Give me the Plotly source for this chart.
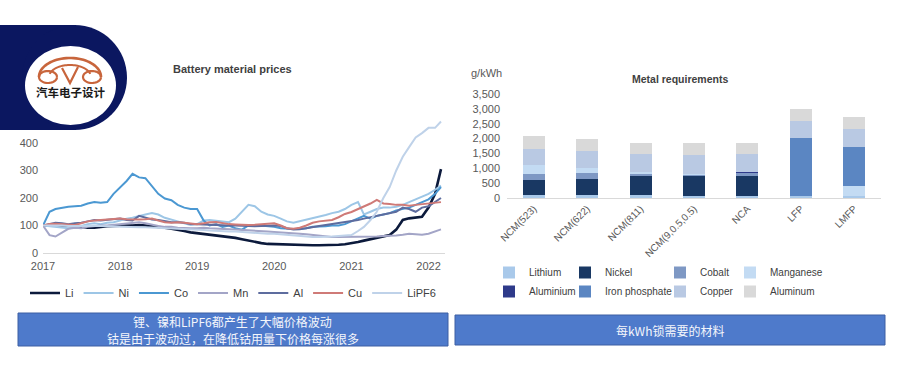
import numpy as np
import plotly.graph_objects as go

W, H = 897, 383


def px(x):
    return x / W


def py(y):
    return 1 - y / H


# ---------------- data: battery material prices (index, Jan 2017 = 100) ----------------
months = [f"{y}-{m:02d}-01" for y in range(2017, 2023) for m in range(1, 13)][:63]

li = [100, 100, 100, 102, 100, 98, 95, 92, 92, 95, 97, 98,
      100, 100, 100, 102, 100, 98, 95, 92, 88, 85, 80, 75,
      72, 70, 68, 65, 62, 58, 55, 50, 45, 40, 36, 33,
      32, 31, 31, 30, 30, 29, 28, 28, 28, 29, 30, 32,
      35, 40, 45, 50, 55, 60, 65, 85, 120, 126, 128, 132,
      165, 215, 305]
ni = [100, 98, 95, 92, 90, 92, 98, 105, 108, 105, 110, 112,
      118, 125, 128, 135, 140, 145, 140, 128, 120, 115, 108, 102,
      105, 118, 120, 118, 115, 112, 125, 150, 175, 170, 150, 140,
      135, 125, 115, 110, 115, 122, 128, 132, 138, 145, 150, 160,
      175, 185, 140, 150, 160, 165, 165, 168, 175, 185, 195, 205,
      215, 230, 245]
co = [100, 150, 160, 165, 168, 170, 172, 180, 185, 183, 185, 215,
      238, 262, 288, 275, 272, 245, 215, 198, 192, 175, 165, 160,
      160, 118, 100, 105, 95, 100, 90, 85, 100, 102, 100, 98,
      95, 90, 88, 87, 88, 90, 95, 95, 97, 100, 100, 105,
      115, 125, 135, 125, 135, 140, 145, 155, 160, 165, 175, 185,
      195, 215, 240]
mn = [100, 65, 60, 75, 88, 92, 90, 95, 98, 100, 100, 102,
      105, 108, 110, 112, 108, 102, 98, 95, 95, 92, 90, 90,
      90, 92, 90, 88, 88, 86, 85, 84, 82, 80, 80, 78,
      76, 75, 74, 72, 70, 68, 65, 62, 60, 58, 58, 58,
      58, 58, 60, 60, 60, 62, 62, 64, 66, 70, 68, 66,
      70, 78, 86]
al = [100, 105, 110, 108, 105, 108, 110, 115, 120, 118, 120, 122,
      125, 120, 118, 135, 128, 122, 120, 115, 112, 112, 110, 105,
      105, 105, 103, 102, 100, 100, 100, 98, 98, 97, 98, 100,
      100, 98, 90, 85, 86, 90, 95, 98, 102, 105, 108, 112,
      115, 120, 125, 130, 135, 140, 145, 150, 165, 160, 150, 165,
      170, 185, 200]
cu = [100, 105, 106, 104, 103, 102, 108, 115, 118, 120, 122, 125,
      125, 123, 122, 122, 123, 125, 118, 112, 110, 112, 110, 108,
      105, 108, 112, 113, 108, 105, 104, 102, 102, 103, 104, 105,
      108, 100, 90, 88, 92, 100, 110, 115, 118, 120, 130, 142,
      149, 160, 168, 180, 193, 180, 178, 175, 175, 172, 175, 178,
      180, 182, 185]
lipf6 = [100, 100, 102, 100, 98, 98, 100, 100, 98, 98, 97, 96,
         96, 95, 95, 94, 94, 93, 92, 92, 90, 88, 88, 86,
         85, 84, 82, 80, 80, 78, 78, 76, 76, 74, 72, 70,
         70, 68, 65, 62, 60, 58, 58, 58, 58, 60, 62, 64,
         65, 80, 95, 120, 150, 200, 240, 300, 350, 385, 420, 436,
         455, 455, 478]

year_ticks = ["2017-01-01", "2018-01-01", "2019-01-01", "2020-01-01", "2021-01-01", "2022-01-01"]
year_labels = ["2017", "2018", "2019", "2020", "2021", "2022"]
price_ticks = [0, 100, 200, 300, 400]

# ---------------- data: metal requirements (g/kWh) ----------------
chem = ["NCM(523)", "NCM(622)", "NCM(811)", "NCM(9,0.5,0.5)", "NCA", "LFP", "LMFP"]
lithium = [100, 100, 85, 80, 80, 80, 60]
nickel = [505, 540, 660, 690, 650, 0, 0]
cobalt = [200, 190, 65, 25, 140, 0, 0]
manganese = [300, 170, 70, 20, 0, 0, 355]
aluminium = [0, 0, 0, 0, 15, 0, 0]
iron_phosphate = [0, 0, 0, 0, 0, 1930, 1313]
copper = [560, 580, 595, 640, 585, 593, 596]
aluminum = [415, 395, 380, 390, 390, 394, 394]
req_ticks = [0, 500, 1000, 1500, 2000, 2500, 3000, 3500]

fig = go.Figure()

line_series = [
    ("Li", li, "#0c1a3c", 2.6),
    ("Ni", ni, "#9dc6e6", 2.0),
    ("Co", co, "#4b98d2", 2.0),
    ("Mn", mn, "#a3a5c7", 2.0),
    ("Al", al, "#5d6c9e", 2.0),
    ("Cu", cu, "#cf7a77", 2.0),
    ("LiPF6", lipf6, "#bfd2e9", 2.0),
]
for name, vals, col, w in line_series:
    fig.add_trace(go.Scatter(x=months, y=vals, name=name, mode="lines",
                             line=dict(color=col, width=w),
                             xaxis="x", yaxis="y", legend="legend"))

bar_series = [
    ("Lithium", lithium, "#a9c9ea", "legend2"),
    ("Nickel", nickel, "#193863", "legend3"),
    ("Cobalt", cobalt, "#7e98c4", "legend4"),
    ("Manganese", manganese, "#c3dbf3", "legend5"),
    ("Aluminium", aluminium, "#2e3a8a", "legend2"),
    ("Iron phosphate", iron_phosphate, "#5b86c2", "legend3"),
    ("Copper", copper, "#b9c9e3", "legend4"),
    ("Aluminum", aluminum, "#d9d9d9", "legend5"),
]
for name, vals, col, lg in bar_series:
    fig.add_trace(go.Bar(x=chem, y=vals, name=name, marker=dict(color=col, line=dict(width=0)),
                         xaxis="x2", yaxis="y2", legend=lg))

tick_font = dict(family="Liberation Sans, Arial, sans-serif", size=11, color="#595959")
leg_common = dict(bgcolor="rgba(0,0,0,0)", borderwidth=0, orientation="v", traceorder="normal",
                  font=dict(family="Liberation Sans, Arial, sans-serif", size=10, color="#404040"),
                  yanchor="middle", y=py(282), xanchor="left")

fig.update_layout(
    template="none",
    width=W, height=H, margin=dict(l=0, r=0, t=0, b=0, autoexpand=False),
    paper_bgcolor="white", plot_bgcolor="white",
    font=dict(family="Liberation Sans, Arial, sans-serif", size=11, color="#595959"),
    barmode="stack", bargap=0.59,
    xaxis=dict(domain=[px(43), px(445)], type="date", range=["2017-01-01", "2022-03-20"],
               tickvals=year_ticks, ticktext=year_labels, showline=True, linecolor="#d9d9d9",
               linewidth=1, showgrid=False, zeroline=False, ticks="", tickfont=tick_font,
               anchor="y", ticklabelstandoff=3, automargin=False),
    yaxis=dict(domain=[py(253), py(115.5)], range=[0, 500], tickvals=price_ticks,
               showgrid=False, zeroline=False, showline=False, ticks="", tickfont=tick_font,
               anchor="x", ticklabelstandoff=4, automargin=False),
    xaxis2=dict(domain=[px(507), px(881)], type="category", showline=True, linecolor="#d9d9d9",
                showgrid=False, zeroline=False, ticks="", tickangle=-45,
                tickfont=dict(family="Liberation Sans, Arial, sans-serif", size=10, color="#595959"),
                anchor="y2", automargin=False),
    yaxis2=dict(domain=[py(198), py(94)], range=[0, 3500], tickvals=req_ticks, tickformat=",",
                showgrid=False, zeroline=False, showline=False, ticks="", tickfont=tick_font,
                anchor="x2", ticklabelstandoff=6, automargin=False),
    legend=dict(orientation="h", x=px(233), xanchor="center", y=py(293), yanchor="middle",
                bgcolor="rgba(0,0,0,0)", borderwidth=0,
                font=dict(family="Liberation Sans, Arial, sans-serif", size=11, color="#404040")),
    legend2=dict(x=px(489), **leg_common),
    legend3=dict(x=px(565), **leg_common),
    legend4=dict(x=px(660), **leg_common),
    legend5=dict(x=px(730), **leg_common),
    showlegend=True,
)

shapes = []
# info boxes
shapes.append(dict(type="rect", xref="paper", yref="paper", x0=px(18), x1=px(448), y0=py(346), y1=py(313),
                   fillcolor="#4e7acb", line=dict(color="#3c5ea3", width=1), layer="above"))
shapes.append(dict(type="rect", xref="paper", yref="paper", x0=px(455), x1=px(885), y0=py(345), y1=py(315),
                   fillcolor="#4e7acb", line=dict(color="#3c5ea3", width=1), layer="above"))
# logo background
navy = "#0b1760"
shapes.append(dict(type="rect", xref="paper", yref="paper", x0=px(0), x1=px(76), y0=py(130), y1=py(25),
                   fillcolor=navy, line=dict(width=0), layer="above"))
shapes.append(dict(type="circle", xref="paper", yref="paper", x0=px(22), x1=px(127), y0=py(130), y1=py(25),
                   fillcolor=navy, line=dict(width=0), layer="above"))
shapes.append(dict(type="circle", xref="paper", yref="paper", x0=px(25), x1=px(116), y0=py(125), y1=py(46),
                   fillcolor="white", line=dict(width=0), layer="above"))


def arc_path(cx, cy, rx, ry, a0, a1, n=40):
    t = np.linspace(np.radians(a0), np.radians(a1), n)
    pts = [(px(cx + rx * np.cos(a)), py(cy - ry * np.sin(a))) for a in t]
    return "M " + " L ".join(f"{x:.5f},{y:.5f}" for x, y in pts)


orange = "#c8653c"
shapes.append(dict(type="path", xref="paper", yref="paper", path=arc_path(70, 77, 31, 19, 180, 0),
                   line=dict(color=orange, width=2.6), layer="above"))
shapes.append(dict(type="path", xref="paper", yref="paper", path=arc_path(70, 77, 21, 12, 165, 15),
                   line=dict(color=orange, width=2), layer="above"))
shapes.append(dict(type="path", xref="paper", yref="paper", path=arc_path(48, 77, 9, 6, 0, 360),
                   line=dict(color=orange, width=2.2), layer="above"))
shapes.append(dict(type="path", xref="paper", yref="paper", path=arc_path(92, 77, 9, 6, 0, 360),
                   line=dict(color=orange, width=2.2), layer="above"))
shapes.append(dict(type="path", xref="paper", yref="paper",
                   path=f"M {px(62):.5f},{py(68):.5f} L {px(70):.5f},{py(83):.5f} L {px(78):.5f},{py(67):.5f}",
                   line=dict(color=orange, width=2.2), layer="above"))
fig.update_layout(shapes=shapes)

cjk = "Noto Sans CJK SC, sans-serif"
ann = [
    dict(x=px(233), y=py(69), text="<b>Battery material prices</b>",
         font=dict(size=11, color="#404040", family="Liberation Sans, Arial, sans-serif")),
    dict(x=px(680), y=py(79), text="<b>Metal requirements</b>",
         font=dict(size=10.5, color="#404040", family="Liberation Sans, Arial, sans-serif")),
    dict(x=px(486), y=py(73), text="g/kWh",
         font=dict(size=11, color="#595959", family="Liberation Sans, Arial, sans-serif")),
    dict(x=px(233), y=py(321.5), text="锂、镍和LiPF6都产生了大幅价格波动",
         font=dict(size=12, color="#f4f6fb", family=cjk)),
    dict(x=px(233), y=py(338), text="钴是由于波动过，在降低钴用量下价格每涨很多",
         font=dict(size=12, color="#f4f6fb", family=cjk)),
    dict(x=px(670), y=py(330), text="每kWh锁需要的材料",
         font=dict(size=12, color="#f4f6fb", family=cjk)),
    dict(x=px(70), y=py(92), text="<b>汽车电子设计</b>",
         font=dict(size=11.5, color="#1a1a1a", family=cjk)),
]
fig.update_layout(annotations=[dict(xref="paper", yref="paper", showarrow=False,
                                    xanchor="center", yanchor="middle", **a) for a in ann])

fig.write_html("out.html", config={"displayModeBar": False},
               post_script="document.body.style.margin='0';document.body.style.padding='0';")
